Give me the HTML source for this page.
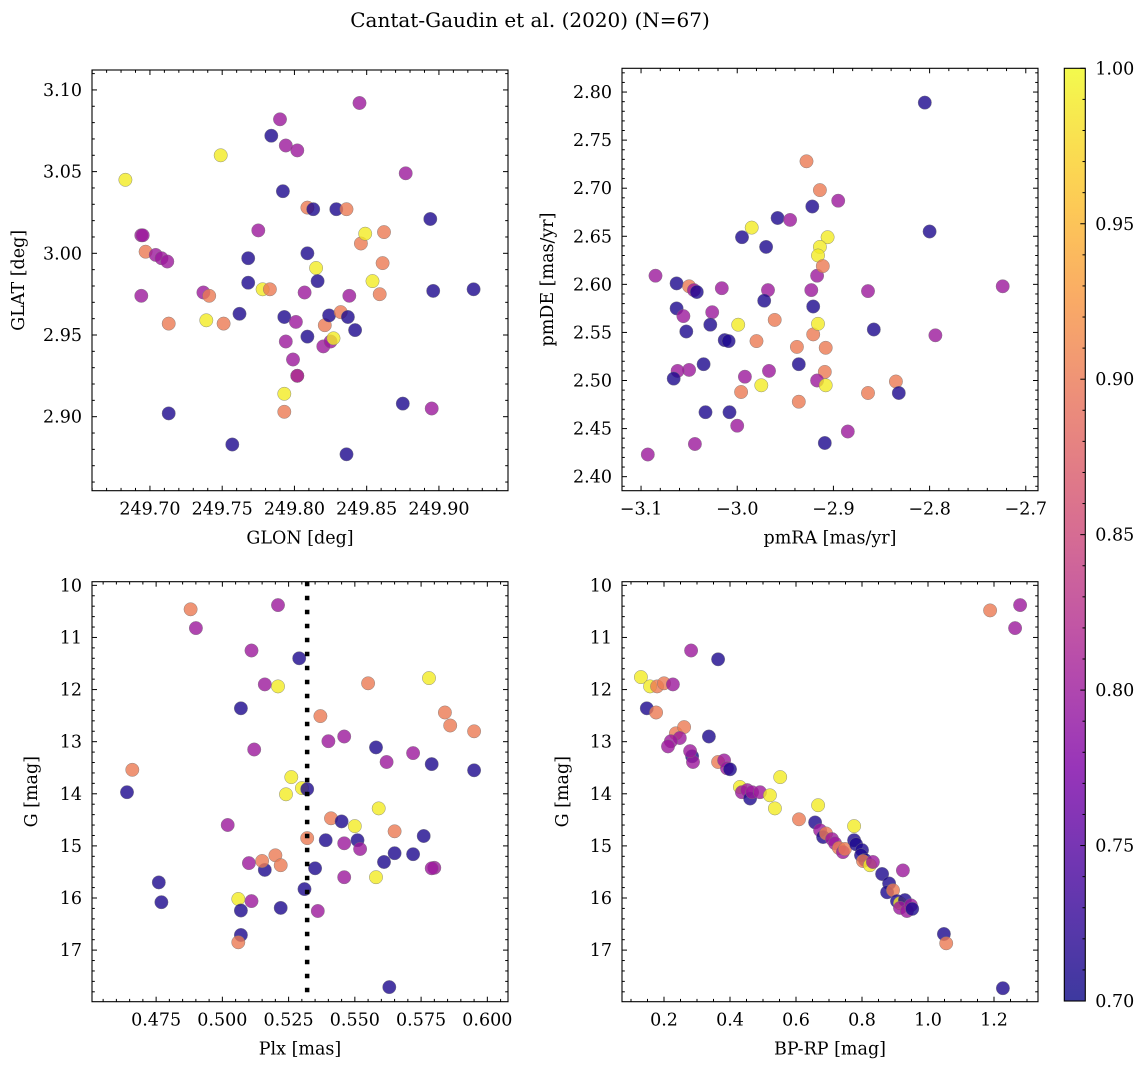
<!DOCTYPE html>
<html><head><meta charset="utf-8"><style>
body{margin:0;background:#fff;}
svg{display:block;font-family:"DejaVu Serif","Liberation Serif",serif;}
</style></head><body>
<svg id="fig" width="1148" height="1068" viewBox="0 0 1148 1068" xmlns="http://www.w3.org/2000/svg">
<text x="530" y="27" font-size="20" text-anchor="middle">Cantat-Gaudin et al. (2020) (N=67)</text>
</svg>
<script>
// Panel 1: GLON vs GLAT
const glon1=[249.683,249.749,249.694,249.695,249.697,249.704,249.708,249.712,249.694,249.713,249.737,249.741,249.739,249.751,249.713,249.757,249.762,249.768,249.768,249.775,249.778,249.783,249.784,249.790,249.792,249.794,249.802,249.793,249.794,249.799,249.802,249.802,249.793,249.793,249.801,249.809,249.809,249.813,249.815,249.816,249.807,249.809,249.820,249.825,249.821,249.824,249.827,249.832,249.829,249.836,249.838,249.837,249.842,249.846,249.849,249.854,249.859,249.861,249.862,249.845,249.877,249.875,249.894,249.896,249.895,249.924,249.836];
const glat1=[3.045,3.060,3.011,3.011,3.001,2.999,2.997,2.995,2.974,2.957,2.976,2.974,2.959,2.957,2.902,2.883,2.963,2.997,2.982,3.014,2.978,2.978,3.072,3.082,3.038,3.066,3.063,2.961,2.946,2.935,2.925,2.925,2.914,2.903,2.958,3.000,3.028,3.027,2.991,2.983,2.976,2.949,2.943,2.946,2.956,2.962,2.948,2.964,3.027,3.027,2.974,2.961,2.953,3.006,3.012,2.983,2.975,2.994,3.013,3.092,3.049,2.908,3.021,2.977,2.905,2.978,2.877];
const prob1=[0.99,0.99,0.80,0.80,0.90,0.80,0.80,0.80,0.80,0.90,0.80,0.90,0.99,0.90,0.71,0.71,0.71,0.71,0.71,0.80,0.99,0.90,0.71,0.80,0.71,0.80,0.80,0.71,0.80,0.80,0.90,0.80,0.99,0.90,0.80,0.71,0.90,0.71,0.99,0.71,0.80,0.71,0.80,0.80,0.90,0.71,0.99,0.90,0.71,0.90,0.80,0.71,0.71,0.90,0.99,0.99,0.90,0.90,0.90,0.80,0.80,0.71,0.71,0.71,0.80,0.71,0.71];
// Panel 2: pmRA vs pmDE
const pmra2=[-2.805,-2.800,-2.928,-2.914,-2.958,-2.945,-2.985,-2.922,-2.895,-2.995,-2.970,-2.906,-2.914,-2.916,-2.917,-2.911,-3.085,-3.063,-3.050,-3.045,-3.016,-2.968,-2.923,-2.864,-2.724,-3.063,-3.042,-2.972,-3.013,-2.921,-2.999,-3.056,-2.961,-3.026,-3.053,-2.921,-2.916,-2.858,-2.794,-3.009,-3.028,-2.980,-2.938,-2.908,-3.035,-3.050,-3.062,-2.992,-2.967,-2.909,-3.066,-2.975,-2.936,-2.917,-2.908,-2.996,-2.864,-2.835,-2.832,-3.033,-3.008,-2.936,-3.000,-3.044,-2.885,-2.909,-3.093];
const pmde2=[2.789,2.655,2.728,2.698,2.669,2.667,2.659,2.681,2.687,2.649,2.639,2.649,2.639,2.630,2.609,2.619,2.609,2.601,2.598,2.594,2.596,2.594,2.594,2.593,2.598,2.575,2.592,2.583,2.542,2.577,2.558,2.567,2.563,2.571,2.551,2.548,2.559,2.553,2.547,2.541,2.558,2.541,2.535,2.534,2.517,2.511,2.510,2.504,2.510,2.509,2.502,2.495,2.517,2.500,2.495,2.488,2.487,2.499,2.487,2.467,2.467,2.478,2.453,2.434,2.447,2.435,2.423];
const prob2=[0.71,0.71,0.90,0.90,0.71,0.80,0.99,0.71,0.80,0.71,0.71,0.99,0.99,0.99,0.80,0.90,0.80,0.71,0.90,0.80,0.80,0.80,0.80,0.80,0.80,0.71,0.71,0.71,0.71,0.71,0.99,0.80,0.90,0.80,0.71,0.90,0.99,0.71,0.80,0.71,0.71,0.90,0.90,0.90,0.71,0.80,0.80,0.80,0.80,0.90,0.71,0.99,0.71,0.80,0.99,0.90,0.90,0.90,0.71,0.71,0.71,0.90,0.80,0.80,0.80,0.71,0.80];
// Panel 3: Plx vs G
const plx3=[0.488,0.490,0.521,0.511,0.516,0.521,0.529,0.507,0.512,0.537,0.555,0.466,0.464,0.526,0.530,0.524,0.532,0.540,0.546,0.558,0.562,0.572,0.584,0.586,0.595,0.578,0.595,0.579,0.502,0.510,0.516,0.515,0.520,0.522,0.532,0.535,0.541,0.545,0.539,0.550,0.546,0.551,0.559,0.552,0.561,0.565,0.565,0.572,0.576,0.580,0.579,0.531,0.546,0.558,0.536,0.511,0.506,0.522,0.507,0.476,0.477,0.507,0.506,0.563];
const g3=[10.46,10.82,10.38,11.25,11.90,11.94,11.40,12.36,13.15,12.51,11.88,13.54,13.97,13.68,13.89,14.01,13.91,12.99,12.90,13.11,13.39,13.22,12.44,12.69,12.80,11.78,13.55,13.43,14.60,15.33,15.46,15.29,15.18,15.37,14.85,15.43,14.47,14.53,14.89,14.62,14.95,14.89,14.28,15.06,15.31,14.72,15.14,15.16,14.81,15.42,15.43,15.83,15.60,15.60,16.25,16.06,16.02,16.19,16.24,15.70,16.08,16.71,16.85,17.71];
const prob3=[0.90,0.80,0.80,0.80,0.80,0.99,0.71,0.71,0.80,0.90,0.90,0.90,0.71,0.99,0.99,0.99,0.71,0.80,0.80,0.71,0.80,0.80,0.90,0.90,0.90,0.99,0.71,0.71,0.80,0.80,0.71,0.90,0.90,0.90,0.90,0.71,0.90,0.71,0.71,0.99,0.80,0.71,0.99,0.80,0.71,0.90,0.71,0.71,0.71,0.80,0.80,0.71,0.80,0.99,0.80,0.80,0.99,0.71,0.71,0.71,0.71,0.71,0.90,0.71];
// Panel 4: BP-RP vs G
const bprp4=[0.130,0.158,0.179,0.200,0.227,0.148,0.176,0.236,0.261,0.248,0.221,0.212,0.285,0.288,0.279,0.336,0.364,0.282,0.364,0.382,0.391,0.400,0.430,0.436,0.452,0.461,0.467,0.491,0.521,0.552,0.536,0.609,0.658,0.673,0.682,0.691,0.709,0.718,0.730,0.742,0.748,0.776,0.776,0.782,0.800,0.797,0.809,0.803,0.824,0.833,0.861,0.882,0.876,0.894,0.906,0.915,0.930,0.915,0.936,0.948,0.952,1.048,1.055,1.227,1.188,1.279,1.264,0.924,0.667];
const g4=[11.76,11.94,11.94,11.88,11.90,12.36,12.44,12.84,12.72,12.93,12.99,13.09,13.28,13.39,13.18,12.90,11.42,11.25,13.39,13.36,13.51,13.53,13.87,13.97,13.93,14.09,13.97,13.97,14.03,13.68,14.28,14.49,14.55,14.70,14.83,14.76,14.87,14.95,15.04,15.12,15.06,14.62,14.89,14.97,15.08,15.18,15.27,15.29,15.37,15.31,15.54,15.72,15.89,15.85,16.06,16.10,16.04,16.19,16.25,16.14,16.21,16.69,16.87,17.73,10.48,10.38,10.82,15.47,14.22];
const prob4=[0.99,0.99,0.90,0.90,0.80,0.71,0.90,0.90,0.90,0.80,0.80,0.80,0.71,0.80,0.80,0.71,0.71,0.80,0.90,0.80,0.80,0.71,0.99,0.80,0.80,0.71,0.80,0.80,0.99,0.99,0.99,0.90,0.71,0.80,0.71,0.90,0.80,0.80,0.90,0.80,0.90,0.99,0.71,0.71,0.71,0.71,0.71,0.90,0.99,0.80,0.71,0.71,0.71,0.90,0.71,0.99,0.71,0.80,0.80,0.80,0.71,0.71,0.90,0.71,0.90,0.80,0.80,0.80,0.99];
const plxLine=[0.532];
const xticks1=[249.70,249.75,249.80,249.85,249.90];
const yticks1=[2.90,2.95,3.00,3.05,3.10];
const xticks2=[-3.1,-3.0,-2.9,-2.8,-2.7];
const yticks2=[2.40,2.45,2.50,2.55,2.60,2.65,2.70,2.75,2.80];
const xticks3=[0.475,0.500,0.525,0.550,0.575,0.600];
const yticksG=[10,11,12,13,14,15,16,17];
const xticks4=[0.2,0.4,0.6,0.8,1.0,1.2];
const cbTicks=[0.70,0.75,0.80,0.85,0.90,0.95,1.00];

const NS="http://www.w3.org/2000/svg";
const svg=document.getElementById('fig');
function mk(tag,attrs,parent){const e=document.createElementNS(NS,tag);for(const k in attrs)e.setAttribute(k,attrs[k]);(parent||svg).appendChild(e);return e;}
const stops=[[0,[13,8,135]],[0.125,[65,4,157]],[0.25,[126,3,168]],[0.375,[170,35,149]],[0.5,[204,71,120]],[0.625,[229,107,93]],[0.75,[248,149,64]],[0.875,[253,196,39]],[1,[240,249,33]]];
function plasma(v){let t=Math.max(0,Math.min(1,(v-0.7)/0.3));for(let i=1;i<stops.length;i++){if(t<=stops[i][0]){const a=stops[i-1],b=stops[i];const f=(t-a[0])/(b[0]-a[0]);const c=a[1].map((x,j)=>Math.round(x+(b[1][j]-x)*f));return `rgb(${c[0]},${c[1]},${c[2]})`;}}return 'rgb(240,249,33)';}

function panel(o){
  const {name,x0,x1,y0,y1,xmin,xmax,ymin,ymax,invert}=o;
  const sx=v=>x0+(v-xmin)/(xmax-xmin)*(x1-x0);
  const sy=invert?(v=>y0+(v-ymin)/(ymax-ymin)*(y1-y0)):(v=>y1-(v-ymin)/(ymax-ymin)*(y1-y0));
  const g=mk('g',{});
  
  
  const clipId='clip-'+name;
  const cp=mk('clipPath',{id:clipId},g);mk('rect',{x:x0,y:y0,width:x1-x0,height:y1-y0},cp);
  const pts=mk('g',{'clip-path':`url(#${clipId})`},g);
  
  
  for(let i=0;i<o.xs.length;i++){
    const c=mk('circle',{cx:sx(o.xs[i]).toFixed(1),cy:sy(o.ys[i]).toFixed(1),r:6.7,fill:plasma(o.cs[i]),'fill-opacity':0.8,stroke:'#777','stroke-width':0.4},pts);
    
    
  }
  if(o.vline){for(const v of o.vline){const l=mk('line',{x1:sx(v),x2:sx(v),y1:y0,y2:y1,stroke:'#000','stroke-width':4.5,'stroke-dasharray':'4.5 9.5'},g);
    
    }}
  const tg=mk('g',{stroke:'#000','stroke-width':1},g);
  const minX=o.xminor, minY=o.yminor;
  for(let v=Math.ceil(xmin/minX)*minX;v<=xmax+1e-9;v+=minX){const X=sx(v);const maj=o.xt.some(t=>Math.abs(t-v)<minX/3);const L=maj?5:2.8;
    mk('line',{x1:X,x2:X,y1:y1,y2:y1-L},tg);mk('line',{x1:X,x2:X,y1:y0,y2:y0+L},tg);}
  for(let v=Math.ceil(ymin/minY)*minY;v<=ymax+1e-9;v+=minY){const Y=sy(v);const maj=o.yt.some(t=>Math.abs(t-v)<minY/3);const L=maj?5:2.8;
    mk('line',{x1:x0,x2:x0+L,y1:Y,y2:Y},tg);mk('line',{x1:x1,x2:x1-L,y1:Y,y2:Y},tg);}
  const fr=mk('rect',{x:x0,y:y0,width:x1-x0,height:y1-y0,fill:'none',stroke:'#000','stroke-width':1.1},g);
  
  
  for(const v of o.xt){const t=mk('text',{x:sx(v),y:y1+24,'font-size':17.5,'text-anchor':'middle'},g);t.textContent=(v<0?'\u2212':'')+Math.abs(v).toFixed(o.xd);
    
    }
  for(const v of o.yt){const t=mk('text',{x:x0-10,y:sy(v)+6,'font-size':17.5,'text-anchor':'end'},g);t.textContent=v.toFixed(o.yd);
    
    }
  const xl=mk('text',{x:(x0+x1)/2,y:y1+53,'font-size':17.5,'text-anchor':'middle'},g);xl.textContent=o.xlabel;
  
  
  const yx=o.ylx, yy=(y0+y1)/2;
  const yl=mk('text',{x:yx,y:yy,'font-size':17.5,'text-anchor':'middle',transform:`rotate(-90 ${yx} ${yy})`},g);yl.textContent=o.ylabel;
  
  
}
panel({name:'glon-glat',x0:92,x1:508,y0:70,y1:490.7,xmin:249.6599,xmax:249.9478,ymin:2.8547,ymax:3.1122,xs:glon1,ys:glat1,cs:prob1,xt:xticks1,yt:yticks1,xminor:0.01,yminor:0.01,xd:2,yd:2,xlabel:'GLON [deg]',ylabel:'GLAT [deg]',ylx:24});
panel({name:'pm',x0:622,x1:1038,y0:68.3,y1:490.7,xmin:-3.1198,xmax:-2.6873,ymin:2.3854,ymax:2.8247,xs:pmra2,ys:pmde2,cs:prob2,xt:xticks2,yt:yticks2,xminor:0.02,yminor:0.01,xd:1,yd:2,xlabel:'pmRA [mas/yr]',ylabel:'pmDE [mas/yr]',ylx:553});
panel({name:'plx-g',x0:92,x1:508,y0:581.7,y1:1001.7,xmin:0.4508,xmax:0.6078,ymin:9.93,ymax:17.99,invert:true,xs:plx3,ys:g3,cs:prob3,xt:xticks3,yt:yticksG,xminor:0.005,yminor:0.2,xd:3,yd:0,xlabel:'Plx [mas]',ylabel:'G [mag]',ylx:37,vline:plxLine});
panel({name:'cmd',x0:622,x1:1038,y0:581.7,y1:1001.7,xmin:0.0727,xmax:1.3333,ymin:9.93,ymax:17.99,invert:true,xs:bprp4,ys:g4,cs:prob4,xt:xticks4,yt:yticksG,xminor:0.05,yminor:0.2,xd:1,yd:0,xlabel:'BP-RP [mag]',ylabel:'G [mag]',ylx:568});

const cb=mk('g',{});


const cx0=1064.3,cx1=1085.3,cy0=68.3,cy1=1001;
const defs=mk('defs',{},cb);const lg=mk('linearGradient',{id:'cbg',x1:0,y1:1,x2:0,y2:0},defs);
for(let i=0;i<=20;i++){const v=0.7+0.3*i/20;const c=plasma(v);const m=c.match(/\d+/g).map(Number).map(x=>Math.round(x*0.8+255*0.2));mk('stop',{offset:i/20,'stop-color':`rgb(${m[0]},${m[1]},${m[2]})`},lg);}
mk('rect',{x:cx0,y:cy0,width:cx1-cx0,height:cy1-cy0,fill:'url(#cbg)',stroke:'#000','stroke-width':1.1},cb);
const cys=v=>cy1-(v-0.7)/0.3*(cy1-cy0);
for(let k=0;k<=30;k++){const v=0.7+k*0.01;const maj=k%5===0;const Y=cys(v);mk('line',{x1:cx1,x2:cx1-(maj?5:2.8),y1:Y,y2:Y,stroke:'#000','stroke-width':1},cb);}
for(const v of cbTicks){const t=mk('text',{x:cx1+10,y:cys(v)+6,'font-size':17.5},cb);t.textContent=v.toFixed(2);
  
  }
</script>
</body></html>
